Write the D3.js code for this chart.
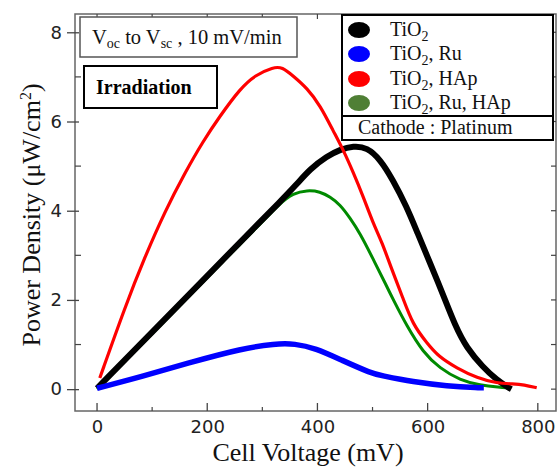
<!DOCTYPE html>
<html>
<head>
<meta charset="utf-8">
<script src="https://cdn.jsdelivr.net/npm/d3@7"></script>
<style>
  html, body { margin: 0; padding: 0; background: #fff; }
  svg { display: block; }
</style>
</head>
<body>
<svg id="chart" width="559" height="468"></svg>
<script>
// ---- Data ----
const seriesNames = ["TiO2", "TiO2, Ru", "TiO2, HAp", "TiO2, Ru, HAp"];

const tio2V = [0, 100, 200, 287, 332, 360, 387, 417, 441, 465, 490, 514, 537, 562, 581, 604, 628, 650, 671, 700, 726, 746, 752];
const tio2P = [0.02, 1.28, 2.54, 3.64, 4.2, 4.56, 4.94, 5.22, 5.37, 5.45, 5.42, 5.15, 4.69, 4.09, 3.52, 2.84, 2.12, 1.42, 0.92, 0.50, 0.2, 0.04, 0.0];

const ruV = [0, 81, 172, 263, 323, 359, 396, 444, 499, 514, 574, 635, 695, 702];
const ruP = [0.02, 0.28, 0.61, 0.91, 1.02, 1.02, 0.92, 0.65, 0.35, 0.31, 0.16, 0.07, 0.03, 0.03];

const hapV = [5, 51, 87, 123, 160, 192, 223, 260, 287, 320, 336, 356, 381, 405, 429, 447, 465, 483, 501, 517, 535, 555, 573, 599, 619, 653, 690, 726, 755, 775, 798];
const hapP = [0.25, 1.85, 2.97, 3.98, 4.86, 5.55, 6.12, 6.74, 7.04, 7.22, 7.22, 7.02, 6.75, 6.36, 5.78, 5.36, 4.86, 4.32, 3.72, 3.3, 2.68, 2.05, 1.45, 1.03, 0.74, 0.47, 0.25, 0.13, 0.12, 0.1, 0.03];

const ruHapV = [0, 100, 200, 241, 290, 332, 356, 381, 405, 423, 441, 459, 477, 501, 526, 537, 562, 592, 622, 659, 695, 731, 745];
const ruHapP = [0.0, 1.24, 2.5, 3.02, 3.62, 4.17, 4.39, 4.46, 4.43, 4.31, 4.14, 3.84, 3.5, 2.92, 2.3, 2.02, 1.42, 0.82, 0.47, 0.20, 0.09, 0.04, 0.03];

const xTicks = [0, 200, 400, 600, 800];
const xMinorTicks = [100, 300, 500, 700];
const yTicks = [0, 2, 4, 6, 8];
const yMinorTicks = [1, 3, 5, 7];

// ---- Layout ----
const svg = d3.select("#chart");
const L = 75, R = 556, T = 14, B = 411;
const x = d3.scaleLinear().domain([-40, 833]).range([L, R]);
const y = d3.scaleLinear().domain([-0.49, 8.41]).range([B, T]);

const frameColor = "#666";

// Frame
svg.append("rect").attr("x", L).attr("y", T).attr("width", R - L).attr("height", B - T)
  .attr("fill", "none").attr("stroke", frameColor).attr("stroke-width", 1.5);

// Left axis
const yAxis = d3.axisLeft(y).tickValues(yTicks).tickSize(8).tickPadding(5).tickFormat(d3.format("d"));
const gy = svg.append("g").attr("transform", `translate(${L},0)`).call(yAxis);
gy.select(".domain").remove();
gy.selectAll(".tick line").attr("stroke", "#444").attr("stroke-width", 1.3).attr("x2", -8).attr("x1", 4);
gy.selectAll(".tick text").attr("font-family", "DejaVu Sans, sans-serif").attr("font-size", 18).attr("fill", "#222");
svg.append("g").selectAll("line").data(yMinorTicks).join("line")
  .attr("x1", L).attr("x2", L + 6).attr("y1", d => y(d)).attr("y2", d => y(d))
  .attr("stroke", "#444").attr("stroke-width", 1.2);
svg.append("g").selectAll("line").data(yTicks.concat(yMinorTicks)).join("line")
  .attr("x1", R).attr("x2", R - 5).attr("y1", d => y(d)).attr("y2", d => y(d))
  .attr("stroke", "#444").attr("stroke-width", 1.2);

// Bottom axis
const xAxis = d3.axisBottom(x).tickValues(xTicks).tickSize(0).tickPadding(9).tickFormat(d3.format("d"));
const gx = svg.append("g").attr("transform", `translate(0,${B})`).call(xAxis);
gx.select(".domain").remove();
gx.selectAll(".tick text").attr("font-family", "DejaVu Sans, sans-serif").attr("font-size", 18).attr("fill", "#222");
svg.append("g").selectAll("line").data(xTicks).join("line")
  .attr("x1", d => x(d)).attr("x2", d => x(d)).attr("y1", B).attr("y2", B - 8)
  .attr("stroke", "#444").attr("stroke-width", 1.3);
svg.append("g").selectAll("line").data(xMinorTicks).join("line")
  .attr("x1", d => x(d)).attr("x2", d => x(d)).attr("y1", B).attr("y2", B - 4)
  .attr("stroke", "#444").attr("stroke-width", 1.2);
svg.append("g").selectAll("line").data(xTicks.concat(xMinorTicks)).join("line")
  .attr("x1", d => x(d)).attr("x2", d => x(d)).attr("y1", T).attr("y2", T + 5)
  .attr("stroke", "#444").attr("stroke-width", 1.2);

// Axis titles
svg.append("text").attr("x", 308).attr("y", 461).attr("text-anchor", "middle")
  .attr("font-family", "Liberation Serif, serif").attr("font-size", 26).attr("fill", "#111")
  .text("Cell Voltage (mV)");
const yt = svg.append("text").attr("transform", "translate(40,215) rotate(-90)").attr("text-anchor", "middle")
  .attr("font-family", "Liberation Serif, serif").attr("font-size", 26).attr("fill", "#111");
yt.append("tspan").text("Power Density (μW/cm");
yt.append("tspan").attr("dy", -9).attr("font-size", 16).text("2");
yt.append("tspan").attr("dy", 9).text(")");

// Curves
const series = [
  { name: seriesNames[0], V: tio2V, P: tio2P, color: "#000000", w: 6 },
  { name: seriesNames[3], V: ruHapV, P: ruHapP, color: "#008a00", w: 3 },
  { name: seriesNames[2], V: hapV, P: hapP, color: "#ff0000", w: 3.2 },
  { name: seriesNames[1], V: ruV, P: ruP, color: "#0000ff", w: 5.5 }
];
const line = d3.line().x(d => x(d[0])).y(d => y(d[1])).curve(d3.curveBasis);
const order = [1, 0, 2, 3];
order.forEach(i => {
  const s = series[i];
  svg.append("path").datum(d3.zip(s.V, s.P))
    .attr("d", line).attr("fill", "none").attr("stroke", s.color)
    .attr("stroke-width", s.w).attr("stroke-linejoin", "round").attr("stroke-linecap", "butt");
});

// Condition box
svg.append("rect").attr("x", 80).attr("y", 17).attr("width", 217).attr("height", 40)
  .attr("fill", "#fff").attr("stroke", "#555").attr("stroke-width", 1.5);
const ct = svg.append("text").attr("x", 92).attr("y", 44)
  .attr("font-family", "Liberation Serif, serif").attr("font-size", 20.5).attr("fill", "#111");
ct.append("tspan").text("V");
ct.append("tspan").attr("dy", 4).attr("font-size", 14).text("oc");
ct.append("tspan").attr("dy", -4).text(" to V");
ct.append("tspan").attr("dy", 4).attr("font-size", 14).text("sc");
ct.append("tspan").attr("dy", -4).text(" , 10 mV/min");

// Irradiation box
svg.append("rect").attr("x", 84).attr("y", 66).attr("width", 133).attr("height", 42)
  .attr("fill", "#fff").attr("stroke", "#000").attr("stroke-width", 2);
svg.append("text").attr("x", 96).attr("y", 94)
  .attr("font-family", "Liberation Serif, serif").attr("font-size", 20).attr("font-weight", "bold").attr("fill", "#000")
  .text("Irradiation");

// Legend
const legendColors = ["#000000", "#0000ff", "#ff0000", "#4f7f35"];
svg.append("rect").attr("x", 342).attr("y", 15).attr("width", 211).attr("height", 101)
  .attr("fill", "#fff").attr("stroke", "#000").attr("stroke-width", 2);
svg.append("rect").attr("x", 342).attr("y", 116).attr("width", 211).attr("height", 24)
  .attr("fill", "#fff").attr("stroke", "#000").attr("stroke-width", 2);
const rowsY = [30, 54, 79, 103];
seriesNames.forEach((n, i) => {
  svg.append("ellipse").attr("cx", 359).attr("cy", rowsY[i]).attr("rx", 11).attr("ry", 8).attr("fill", legendColors[i]);
  const t = svg.append("text").attr("x", 390).attr("y", rowsY[i] + 6)
    .attr("font-family", "Liberation Serif, serif").attr("font-size", 20).attr("fill", "#111");
  const rest = n.slice(4);
  t.append("tspan").text("TiO");
  t.append("tspan").attr("dy", 5).attr("font-size", 14).text("2");
  if (rest) t.append("tspan").attr("dy", -5).text(rest);
});
svg.append("text").attr("x", 358).attr("y", 134)
  .attr("font-family", "Liberation Serif, serif").attr("font-size", 20).attr("fill", "#111")
  .text("Cathode : Platinum");
</script>
</body>
</html>
